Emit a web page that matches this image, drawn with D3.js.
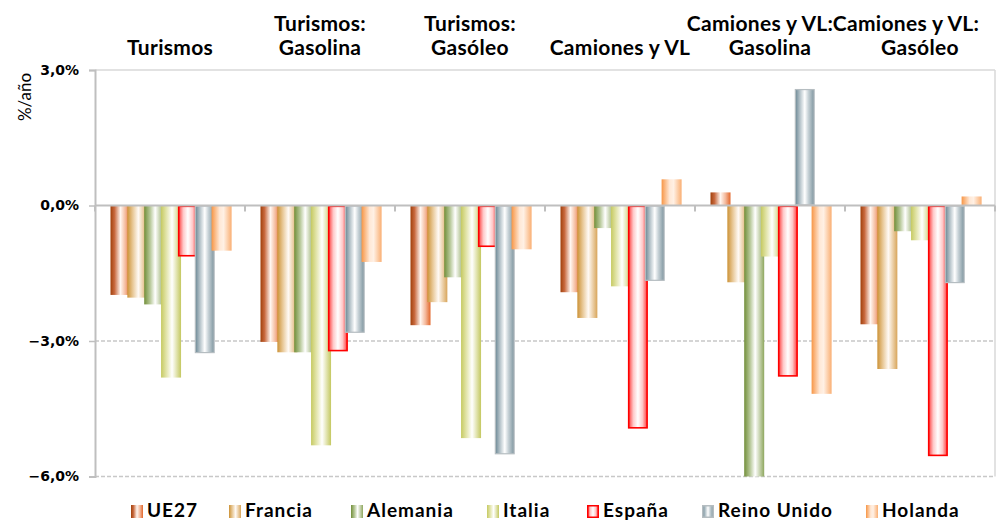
<!DOCTYPE html>
<html><head><meta charset="utf-8">
<script src="https://cdn.jsdelivr.net/npm/d3@7"></script>
<style>body{margin:0;background:#fff}svg{display:block}</style>
</head><body>
<svg id="c" width="997" height="520"></svg>
<script>
const categories = [
  ["Turismos"],
  ["Turismos:", "Gasolina"],
  ["Turismos:", "Gasóleo"],
  ["Camiones y VL"],
  ["Camiones y VL:", "Gasolina"],
  ["Camiones y VL:", "Gasóleo"]
];
const seriesNames = ["UE27", "Francia", "Alemania", "Italia", "España", "Reino Unido", "Holanda"];
const UE27      = [-1.98, -3.02, -2.65, -1.92,  0.29, -2.63];
const Francia   = [-2.04, -3.25, -2.14, -2.49, -1.70, -3.62];
const Alemania  = [-2.19, -3.25, -1.59, -0.50, -6.00, -0.57];
const Italia    = [-3.81, -5.31, -5.15, -1.79, -1.13, -0.77];
const Espana    = [-1.13, -3.23, -0.92, -4.94, -3.79, -5.55];
const ReinoUnido= [-3.27, -2.82, -5.51, -1.67,  2.58, -1.72];
const Holanda   = [-1.00, -1.25, -0.97,  0.58, -4.17,  0.20];
const seriesValues = [UE27, Francia, Alemania, Italia, Espana, ReinoUnido, Holanda];
const yTicks = [3, 0, -3, -6];

const styles = [
  {stops:[[0,"#A0400C"],[0.2,"#C8693E"],[0.5,"#FFF6F0"],[0.75,"#F4B89A"],[1,"#E2662A"]], stroke:null},
  {stops:[[0,"#CC9236"],[0.25,"#E6C48F"],[0.55,"#FFFAF5"],[1,"#D8A55A"]], stroke:null},
  {stops:[[0,"#728F3A"],[0.3,"#B8C99A"],[0.55,"#FFFFFF"],[1,"#8EA75E"]], stroke:null},
  {stops:[[0,"#C6CA62"],[0.3,"#E6E8B4"],[0.55,"#FFFFFF"],[1,"#C4C860"]], stroke:null},
  {stops:[[0,"#FF4040"],[0.25,"#FFC8C8"],[0.5,"#FFFFFF"],[0.75,"#FFC8C8"],[1,"#FF4040"]], stroke:"#FF0000", sw:1.6},
  {stops:[[0,"#6C8895"],[0.3,"#C5D0D5"],[0.5,"#FFFFFF"],[0.7,"#C5D0D5"],[1,"#7E959F"]], stroke:"#B5BDC1", sw:1.2},
  {stops:[[0,"#F79646"],[0.4,"#FFE8D6"],[0.6,"#FFF0E4"],[1,"#FAAF73"]], stroke:null}
];

const svg = d3.select("#c");
const defs = svg.append("defs");
styles.forEach((s,i)=>{
  const g = defs.append("linearGradient").attr("id","g"+i).attr("x1","0").attr("x2","1").attr("y1","0").attr("y2","0");
  s.stops.forEach(st=>g.append("stop").attr("offset",st[0]).attr("stop-color",st[1]));
});

const L = 95, R = 995, T = 70, B = 476.5;
const x = d3.scaleBand().domain(d3.range(categories.length)).range([L, R]).padding(0);
const y = d3.scaleLinear().domain([-6, 3]).range([B, T]);
const step = 16.85, bw = 20, off = 15.5;
const xs = d3.scaleBand().domain(seriesNames).range([off, off + step*seriesNames.length]).padding(0);

svg.append("line").attr("x1",L).attr("x2",R).attr("y1",y(3)).attr("y2",y(3)).attr("stroke","#D9D9D9").attr("stroke-width",1.5);
svg.append("line").attr("x1",R).attr("x2",R).attr("y1",y(3)).attr("y2",y(-6)).attr("stroke","#D9D9D9").attr("stroke-width",1.5);
[-3,-6].forEach(v=>{
  svg.append("line").attr("x1",L).attr("x2",R).attr("y1",y(v)).attr("y2",y(v))
    .attr("stroke","#C8C8C8").attr("stroke-width",1.5).attr("stroke-dasharray","4,2");
});

const bars = svg.append("g");
seriesNames.forEach((name,si)=>{
  const s = styles[si];
  seriesValues[si].forEach((v,ci)=>{
    const x0 = x(ci) + xs(name);
    const y0 = Math.min(y(v), y(0)), h = Math.abs(y(v)-y(0));
    const r = bars.append("rect").attr("x",x0).attr("y",y0).attr("width",bw).attr("height",h)
      .attr("fill","url(#g"+si+")");
    if (s.stroke) {
      r.attr("x",x0+s.sw/2).attr("width",bw-s.sw).attr("y",y0+s.sw/2).attr("height",Math.max(0,h-s.sw))
       .attr("stroke",s.stroke).attr("stroke-width",s.sw);
    }
  });
});

svg.append("line").attr("x1",L).attr("x2",R).attr("y1",y(0)).attr("y2",y(0)).attr("stroke","#BFBFBF").attr("stroke-width",2);
d3.range(categories.length+1).forEach(i=>{
  const xx = i<categories.length ? x(i) : R;
  svg.append("line").attr("x1",xx).attr("x2",xx).attr("y1",y(0)).attr("y2",y(0)+6).attr("stroke","#BFBFBF").attr("stroke-width",2);
});

const yAxis = d3.axisLeft(y).tickValues(yTicks).tickSize(6).tickPadding(10)
  .tickFormat(d=>d3.format(".1f")(d).replace(".",",")+"%");
const ga = svg.append("g").attr("transform",`translate(${L},0)`).call(yAxis);
ga.select(".domain").attr("stroke","#BFBFBF").attr("stroke-width",2);
ga.selectAll(".tick line").attr("stroke","#BFBFBF").attr("stroke-width",1.5);
ga.selectAll(".tick text").attr("font-family","DejaVu Sans").attr("font-weight","bold").attr("font-size","14px").attr("fill","#000");

svg.append("text").attr("transform","translate(31,97) rotate(-90)").attr("text-anchor","middle")
  .attr("font-family","Lato").attr("font-size","17px").attr("fill","#000").text("%/año");

// category titles (line-1 shift for the two crowded last labels)
const firstLineShift = [0, 0, 0, 0, -10, -14];
categories.forEach((lines,ci)=>{
  const t = svg.append("text").attr("text-anchor","middle").attr("font-family","Lato")
    .attr("font-weight","bold").attr("font-size","21px").attr("letter-spacing","0.3px").attr("fill","#000");
  const n = lines.length;
  lines.forEach((ln,li)=>{
    t.append("tspan").attr("x", x(ci)+x.bandwidth()/2 + (li===0 && n>1 ? firstLineShift[ci] : 0))
      .attr("y", 55 - (n-1-li)*24).text(ln);
  });
});

const legX = [131, 229, 351, 487, 587, 702, 866];
const lg = svg.append("g");
seriesNames.forEach((name,si)=>{
  const s = styles[si];
  const r = lg.append("rect").attr("x",legX[si]).attr("y",505).attr("width",12).attr("height",13).attr("fill","url(#g"+si+")");
  if (s.stroke) r.attr("stroke",s.stroke).attr("stroke-width",1.5).attr("x",legX[si]+0.75).attr("y",505.75).attr("width",10.5).attr("height",11.5);
  lg.append("text").attr("x",legX[si]+16).attr("y",517).attr("font-family","Lato").attr("font-weight","bold")
    .attr("font-size","19px").attr("letter-spacing","1px").attr("fill","#000").text(name);
});
</script>
</body></html>
